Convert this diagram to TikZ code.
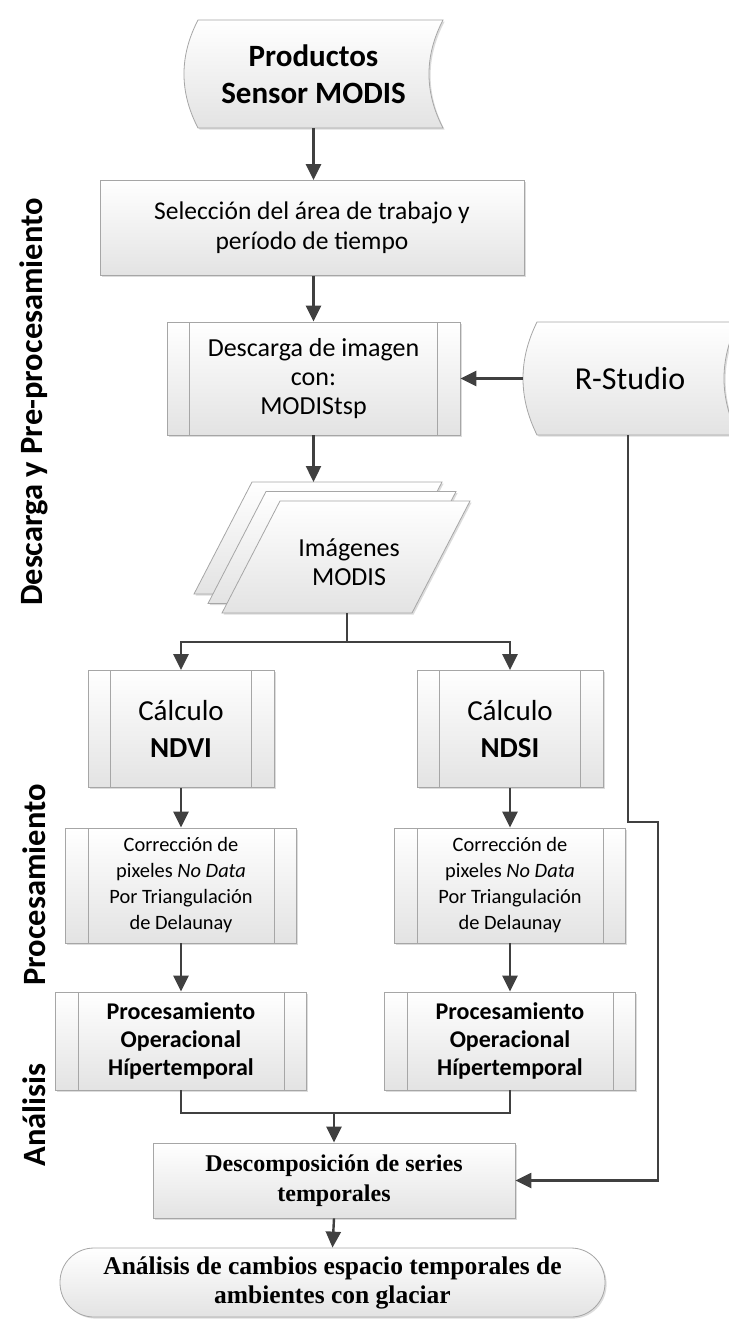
\documentclass[tikz,border=0pt]{standalone}
\usepackage{fontspec}
\setmainfont{Carlito}
\newfontfamily\tnr{Liberation Serif}
\usetikzlibrary{arrows.meta,shadows,calc}
\definecolor{edgec}{HTML}{A6A6A6}
\definecolor{arrc}{HTML}{404040}
\begin{document}
\begin{tikzpicture}[x=1pt,y=-1pt,
  fillsh/.style={draw=edgec, line width=0.8pt, top color=white, bottom color=black!11,
    drop shadow={shadow xshift=1.6pt, shadow yshift=-1.6pt, fill=black!30, opacity=0.45}},
  box/.style={fillsh, rectangle, inner sep=0pt, align=center},
  sub/.style={box, path picture={
    \draw[edgec, line width=0.8pt]
      ([xshift=22.5pt]path picture bounding box.north west) -- ([xshift=22.5pt]path picture bounding box.south west)
      ([xshift=-22.5pt]path picture bounding box.north east) -- ([xshift=-22.5pt]path picture bounding box.south east);}},
  txtonly/.style={rectangle, inner sep=0pt, align=center},
  conn/.style={draw=arrc, line width=2.4pt},
  arr/.style={conn, -{Triangle[length=16pt,width=15pt]}},
  side/.style={rotate=90, font=\bfseries\fontsize{32.5}{36}\selectfont},
]
\useasboundingbox (0,0) rectangle (728,1319);

% side labels
\node[side] (lab1) at (34,402) {Descarga y Pre-procesamiento};
\node[side] (lab2) at (34,885) {Procesamiento};
\node[side] (lab3) at (34,1115) {Análisis};

% Productos (stored data shape)
\path[fillsh] (198,20) -- (443,20) .. controls (424.3,56) and (424.3,92) .. (443,128)
  -- (198,128) .. controls (179.3,92) and (179.3,56) .. (198,20) -- cycle;
\node[txtonly, minimum width=259pt, minimum height=108pt,
  font=\bfseries\fontsize{31}{37.5}\selectfont] (prod) at (313.5,74) {Productos\\Sensor MODIS};

% R-Studio (stored data shape)
\path[fillsh] (537,322) -- (738,322) .. controls (719.3,359.7) and (719.3,397.3) .. (738,435)
  -- (537,435) .. controls (518.3,397.3) and (518.3,359.7) .. (537,322) -- cycle;
\node[txtonly, minimum width=214pt, minimum height=113pt,
  font=\fontsize{32}{36}\selectfont] (rs) at (630,378.5) {R-Studio};

% Seleccion
\node[box, minimum width=424pt, minimum height=95pt, font=\fontsize{25.5}{30}\selectfont]
  (sel) at (312,228) {Selección del área de trabajo y\\período de tiempo};

% Descarga
\node[sub, minimum width=293pt, minimum height=113pt, font=\fontsize{26}{29}\selectfont]
  (desc) at (313.5,378.5) {Descarga de imagen\\con:\\MODIStsp};

% Imagenes MODIS (multi-document)
\path[fillsh] (252,482) -- (442,482) -- (384,594) -- (194,594) -- cycle;
\path[fillsh] (266,491.5) -- (456,491.5) -- (398,603.5) -- (208,603.5) -- cycle;
\path[fillsh] (280,501) -- (470,501) -- (412,613) -- (222,613) -- cycle;
\node[txtonly, font=\fontsize{26}{29}\selectfont] (img) at (349,562) {Imágenes\\MODIS};
\coordinate (imgtop) at (313.5,482);
\coordinate (imgbot) at (347,613);

% Calculo
\node[sub, minimum width=186pt, minimum height=117pt, font=\fontsize{29}{37}\selectfont]
  (ndvi) at (181,729) {Cálculo\\\textbf{NDVI}};
\node[sub, minimum width=186pt, minimum height=117pt, font=\fontsize{29}{37}\selectfont]
  (ndsi) at (510,729) {Cálculo\\\textbf{NDSI}};

% Correccion
\node[sub, minimum width=231pt, minimum height=115pt, font=\fontsize{20.4}{26}\selectfont]
  (corr1) at (181,885.5) {Corrección de\\pixeles \textit{No Data}\\Por Triangulación\\de Delaunay};
\node[sub, minimum width=231pt, minimum height=115pt, font=\fontsize{20.4}{26}\selectfont]
  (corr2) at (510,885.5) {Corrección de\\pixeles \textit{No Data}\\Por Triangulación\\de Delaunay};

% Procesamiento
\node[sub, minimum width=251pt, minimum height=98pt, font=\bfseries\fontsize{24}{28}\selectfont]
  (proc1) at (181,1041) {Procesamiento\\Operacional\\Hípertemporal};
\node[sub, minimum width=251pt, minimum height=98pt, font=\bfseries\fontsize{24}{28}\selectfont]
  (proc2) at (510,1041) {Procesamiento\\Operacional\\Hípertemporal};

% Descomposicion
\node[box, minimum width=362pt, minimum height=75pt, font=\tnr\bfseries\fontsize{24}{30}\selectfont]
  (dec) at (334,1180.5) {Descomposición de series\\temporales};

% Final terminal
\node[box, rounded corners=34pt, minimum width=545pt, minimum height=69pt,
  font=\tnr\bfseries\fontsize{25.5}{29}\selectfont]
  (fin) at (332.5,1282.5) {Análisis de cambios espacio temporales de\\ambientes con glaciar};

% connectors
\draw[arr] (prod.south) -- (prod.south |- sel.north);
\draw[arr] (desc.north |- sel.south) -- (desc.north);
\draw[arr] (rs.west) -- (desc.east);
\draw[arr] (desc.south) -- (imgtop);
\coordinate (br) at (347,642);
\draw[conn] (imgbot) -- (br);
\draw[arr] (br) -| (ndvi.north);
\draw[arr] (br) -| (ndsi.north);
\draw[arr] (ndvi.south) -- (corr1.north);
\draw[arr] (ndsi.south) -- (corr2.north);
\draw[arr] (corr1.south) -- (proc1.north);
\draw[arr] (corr2.south) -- (proc2.north);
\coordinate (mg) at (334,1113);
\draw[conn] (proc1.south) |- (mg);
\draw[arr] (proc2.south) |- (mg) -- (dec.north);
\draw[arr] (dec.south) -- (fin.north);
\coordinate (r2) at (628,822);
\coordinate (r3) at (658,822);
\draw[arr] (rs.south -| r2) -- (r2) -- (r3) |- (dec.east);
\end{tikzpicture}
\end{document}
